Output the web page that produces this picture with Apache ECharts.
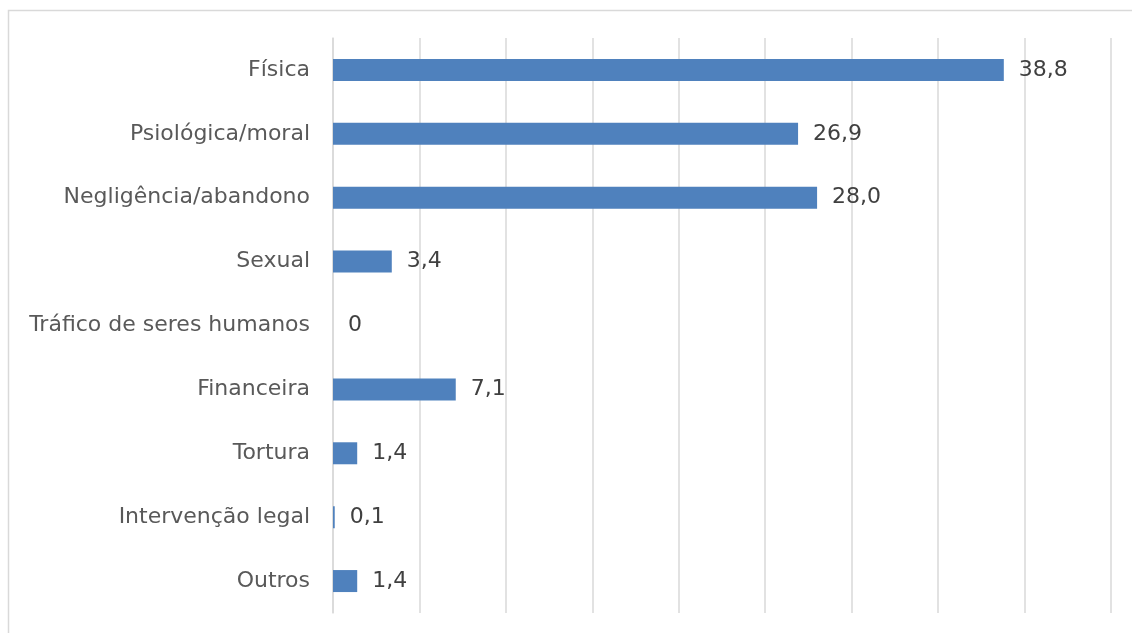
<!DOCTYPE html>
<html>
<head>
<meta charset="utf-8">
<script src="https://cdn.jsdelivr.net/npm/echarts@6/dist/echarts.min.js"></script>
<style>
    html, body { margin: 0; padding: 0; background: #fff; }
    #chart { width: 1132px; height: 633px; }
</style>
</head>
<body>
<div id="chart"></div>
<script type="text/javascript">
    // categorias, de cima para baixo
    var categorias = ['Física', 'Psiológica/moral', 'Negligência/abandono', 'Sexual',
        'Tráfico de seres humanos', 'Financeira', 'Tortura', 'Intervenção legal', 'Outros'];
    var valores = [38.8, 26.9, 28.0, 3.4, 0, 7.1, 1.4, 0.1, 1.4];
    var rotulos = ['38,8', '26,9', '28,0', '3,4', '0', '7,1', '1,4', '0,1', '1,4'];

    var myChart = echarts.init(document.getElementById('chart'));

    var option = {
        animation: false,
        textStyle: { fontFamily: 'DejaVu Sans' },
        graphic: [{
            type: 'rect',
            shape: { x: 8.5, y: 10.5, width: 1140, height: 640 },
            style: { fill: 'none', stroke: '#d9d9d9', lineWidth: 1.5 },
            silent: true
        }],
        grid: { left: 333, right: 21, top: 38, bottom: 20 },
        xAxis: {
            type: 'value',
            min: 0,
            max: 45,
            interval: 5,
            axisLabel: { show: false },
            axisLine: { show: false },
            axisTick: { show: false },
            splitLine: { lineStyle: { color: '#d9d9d9', width: 1.5 } }
        },
        yAxis: {
            type: 'category',
            inverse: true,
            data: categorias,
            axisLine: { show: true, lineStyle: { color: '#d9d9d9', width: 1.5 } },
            axisTick: { show: false },
            axisLabel: { color: '#595959', fontSize: 22, margin: 23, fontFamily: 'DejaVu Sans' }
        },
        series: [{
            type: 'bar',
            data: valores,
            barWidth: 22,
            itemStyle: { color: '#4f81bd' },
            label: {
                show: true,
                position: 'right',
                distance: 15,
                color: '#404040',
                fontSize: 22,
                fontFamily: 'DejaVu Sans',
                formatter: function (p) { return rotulos[p.dataIndex]; }
            }
        }]
    };

    myChart.setOption(option, true);
</script>
</body>
</html>
